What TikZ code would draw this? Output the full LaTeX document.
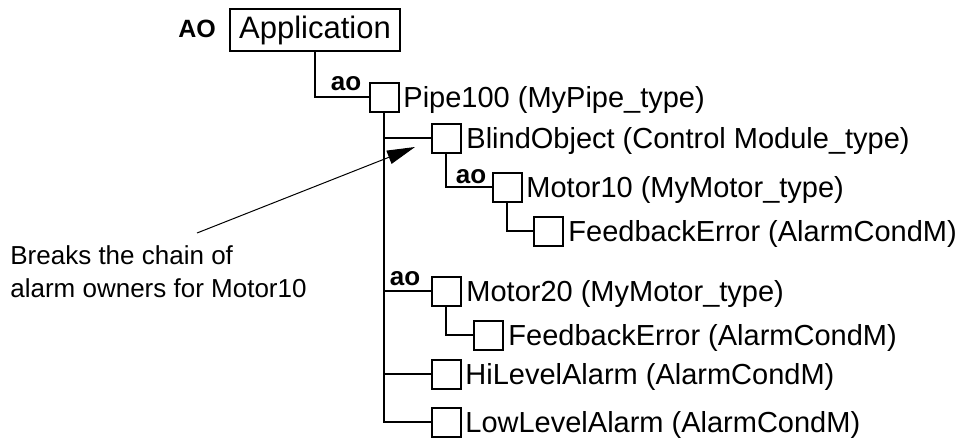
\documentclass[tikz,border=0pt]{standalone}
\usepackage{fontspec}
\setmainfont{Liberation Sans}
\usetikzlibrary{arrows.meta, positioning}

\begin{document}
\begin{tikzpicture}[x=0.5pt, y=-0.5pt,
  objbox/.style={draw, line width=1pt, minimum width=14.5pt,
    minimum height=14.5pt, inner sep=0pt},
  objname/.style={anchor=base west, inner sep=0pt,
    font=\fontsize{14.5}{17}\selectfont},
  aolbl/.style={anchor=base, inner sep=0pt,
    font=\fontsize{13}{15}\selectfont\bfseries},
  tree/.style={line width=1pt}]
  \useasboundingbox (0,0) rectangle (961,439);
  % Top of the tree
  \node[draw, line width=1pt, minimum width=85pt, minimum height=21pt,
    inner sep=0pt, font=\fontsize{15.5}{18}\selectfont] (app) at (315,30)
    {Application};
  \node[anchor=base, inner sep=0pt, font=\fontsize{12.5}{15}\selectfont\bfseries]
    (AO) at (197,37) {AO};
  % Object boxes
  \node[objbox] (pipe)   at (384,97)  {};
  \node[objbox] (blind)  at (446,138) {};
  \node[objbox] (motorA) at (507,187) {};
  \node[objbox] (feA)    at (548,231) {};
  \node[objbox] (motorB) at (446,291) {};
  \node[objbox] (feB)    at (488,335) {};
  \node[objbox] (hilvl)  at (446,374) {};
  \node[objbox] (lowlvl) at (446,422) {};
  % Object names
  \node[objname] (pipetxt)   at (403,107.5) {Pipe100 (MyPipe\_type)};
  \node[objname] (blindtxt)  at (466,148.5) {BlindObject (Control Module\_type)};
  \node[objname] (motorAtxt) at (526,197.5) {Motor10 (MyMotor\_type)};
  \node[objname] (feAtxt)    at (568,241.5) {FeedbackError (AlarmCondM)};
  \node[objname] (motorBtxt) at (466,301.5) {Motor20 (MyMotor\_type)};
  \node[objname] (feBtxt)    at (508,345.5) {FeedbackError (AlarmCondM)};
  \node[objname] (hilvltxt)  at (465,384.5) {HiLevelAlarm (AlarmCondM)};
  \node[objname] (lowlvltxt) at (465,432.5) {LowLevelAlarm (AlarmCondM)};
  % Tree lines
  \draw[tree] (app.south) |- (pipe.west);
  \draw[tree] (pipe.south) |- (lowlvl.west);
  \foreach \n in {blind, motorB, hilvl}{
    \draw[tree] (pipe.south |- \n.west) -- (\n.west);
  }
  \draw[tree] (blind.south) |- (motorA.west);
  \draw[tree] (motorA.south) |- (feA.west);
  \draw[tree] (motorB.south) |- (feB.west);
  % Alarm owner marks
  \node[aolbl] (aoPipe)   at (346,90)  {ao};
  \node[aolbl] (aoMotorA) at (471,183) {ao};
  \node[aolbl] (aoMotorB) at (405,285) {ao};
  % Note with arrow
  \node[anchor=north west, inner sep=0pt, align=left,
    font=\fontsize{13}{16.5}\selectfont] (note) at (10,245)
    {Breaks the chain of\\alarm owners for Motor10};
  \coordinate (tail) at (197,233);
  \coordinate (tip) at (415,147);
  \draw[line width=0.5pt, -{Triangle[length=14pt,width=7pt]}] (tail) -- (tip);
\end{tikzpicture}
\end{document}
